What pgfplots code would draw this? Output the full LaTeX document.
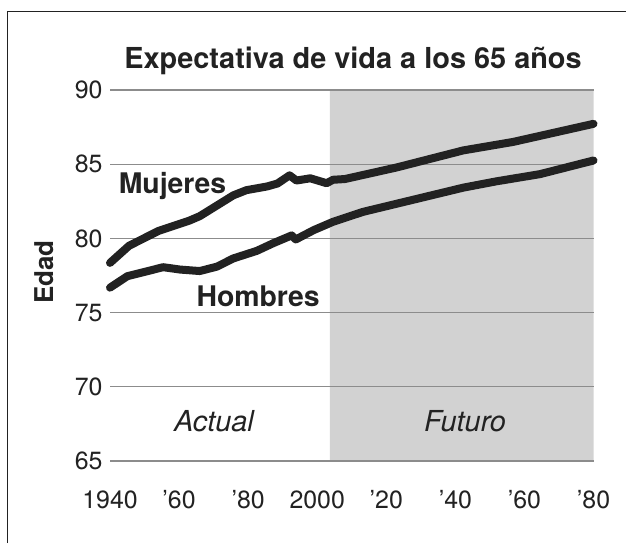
\documentclass[border=0pt]{standalone}
\usepackage{fontspec}
\setmainfont{TeX Gyre Heros}
\usepackage{pgfplots}
\pgfplotsset{compat=1.18}
\definecolor{ink}{HTML}{222222}
\definecolor{shade}{HTML}{D2D2D2}
\definecolor{gridc}{HTML}{8C8C8C}
\begin{document}
\begin{tikzpicture}
\path (0bp,0bp) rectangle (627bp,544bp);
\draw[line width=1.5bp, ink] (7.5bp,0.8bp) -- (7.5bp,532.5bp) -- (626.2bp,532.5bp);
\begin{axis}[
  at={(110bp,83bp)}, anchor=south west,
  scale only axis, width=483.5bp, height=371bp,
  set layers, clip=false,
  xmin=1940, xmax=2080, ymin=65, ymax=90,
  axis line style={draw=none},
  major tick length=0pt,
  ymajorgrids, grid style={gridc, line width=1.1bp},
  xtick={1940,1960,1980,2000,2020,2040,2060,2080},
  xticklabels={1940,’60,’80,2000,’20,’40,’60,’80},
  ytick={65,70,75,80,85,90},
  /pgf/number format/assume math mode=true,
  tick label style={font=\fontsize{25}{25}\selectfont, text=ink},
  xticklabel style={yshift=-26bp},
  yticklabel style={xshift=-4bp},
]
\addplot[fill=shade, draw=none, on layer=axis background] coordinates {(2003.7,65) (2080,65) (2080,90) (2003.7,90) (2003.7,65)};
\addplot[ink, line width=8bp, line cap=round, line join=round] coordinates {
(1940,78.35) (1945.5,79.5) (1954,80.5) (1963,81.2) (1966,81.5) (1975.7,82.9) (1979.5,83.25) (1985.5,83.5) (1988.5,83.7) (1992,84.25) (1994,83.9) (1998,84.05) (2002.7,83.72) (2004.6,83.95) (2008,84.0) (2023,84.78) (2042.3,85.93) (2056.7,86.5) (2080,87.72)
};
\addplot[ink, line width=8bp, line cap=round, line join=round] coordinates {
(1940,76.68) (1945,77.45) (1955.4,78.06) (1960.3,77.9) (1966,77.8) (1971,78.1) (1975.7,78.65) (1982.5,79.16) (1987.3,79.68) (1992.6,80.2) (1993.8,79.93) (1999,80.56) (2004.6,81.12) (2013.3,81.79) (2042.3,83.42) (2052,83.85) (2064.5,84.33) (2080,85.25)
};
\node[anchor=base, font=\bfseries\fontsize{28.5}{28.5}\selectfont, text=ink] at (axis cs:1958.1,83.05) {Mujeres};
\node[anchor=base, font=\bfseries\fontsize{28.5}{28.5}\selectfont, text=ink] at (axis cs:1982.9,75.44) {Hombres};
\node[anchor=base, font=\itshape\fontsize{29}{29}\selectfont, text=ink] at (axis cs:1970.1,66.97) {Actual};
\node[anchor=base, font=\itshape\fontsize{29}{29}\selectfont, text=ink] at (axis cs:2042.8,67.02) {Futuro};
\end{axis}
\node[anchor=base, rotate=90, font=\bfseries\fontsize{26}{26}\selectfont, text=ink] at (53bp,272bp) {Edad};
\node[anchor=base, font=\bfseries\fontsize{29}{29}\selectfont, text=ink] at (353bp,475bp) {Expectativa de vida a los 65 años};
\end{tikzpicture}
\end{document}
